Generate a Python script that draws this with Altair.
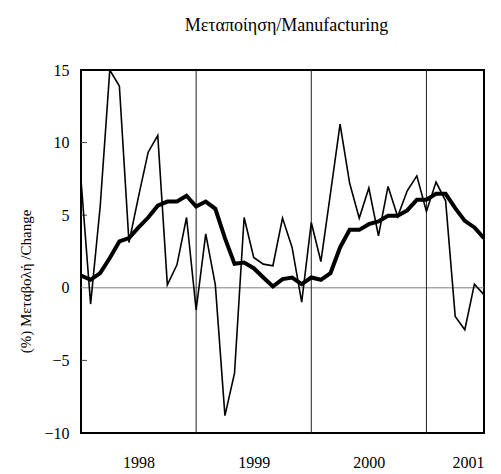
import altair as alt
import pandas as pd

# Monthly index (0 = first month shown), July 1997 .. January 2001
months = list(range(43))

# Thin line: monthly % change
monthly_change = [7.44, -1.12, 5.6, 15.0, 13.9, 3.12, 6.3, 9.34, 10.49, 0.2,
                  1.58, 4.84, -1.52, 3.72, 0.2, -8.8, -5.88, 4.84, 2.09, 1.63,
                  1.52, 4.8, 2.78, -0.99, 4.5, 1.81, 6.5, 11.27, 7.2, 4.8,
                  6.87, 3.58, 6.98, 4.91, 6.68, 7.71, 5.26, 7.28, 5.99, -1.97,
                  -2.89, 0.25, -0.48]

# Thick line: moving average
moving_avg = [0.85, 0.55, 1.01, 2.05, 3.19, 3.42, 4.16, 4.84, 5.65, 5.94,
              5.94, 6.34, 5.6, 5.94, 5.44, 3.42, 1.65, 1.74, 1.35, 0.71,
              0.09, 0.6, 0.71, 0.25, 0.71, 0.55, 1.01, 2.78, 3.99, 3.99,
              4.38, 4.57, 4.96, 4.96, 5.33, 6.06, 6.06, 6.47, 6.47, 5.49,
              4.61, 4.16, 3.42]

year_label_pos = [6, 18, 30, 42]
year_labels = ["1998", "1999", "2000", "2001"]
year_dividers = [12, 24, 36]
y_ticks = [-10, -5, 0, 5, 10, 15]
inner_ticks = [-5, 5, 10]

FONT = "Liberation Serif"

df_thin = pd.DataFrame({"k": months, "v": monthly_change})
df_thick = pd.DataFrame({"k": months, "v": moving_avg})
df_div = pd.DataFrame({"k": year_dividers})
df_zero = pd.DataFrame({"v": [0]})
df_itick = pd.DataFrame({"v": inner_ticks})

label_expr = "{" + ",".join(f"'{p}':'{l}'" for p, l in zip(year_label_pos, year_labels)) + "}[datum.value]"

xscale = alt.Scale(domain=[0, 42], nice=False, zero=False)
yscale = alt.Scale(domain=[-10, 15], nice=False)

x_enc = alt.X("k:Q", scale=xscale, axis=alt.Axis(
    values=year_label_pos, labelExpr=label_expr, title=None, grid=False,
    ticks=False, domain=False, labelPadding=21, labelFont=FONT,
    labelFontSize=16, labelColor="black"))

y_enc = alt.Y("v:Q", scale=yscale, axis=alt.Axis(
    values=y_ticks, title="(%) Μεταβολή /Change", grid=False, ticks=False,
    domain=False, labelPadding=12, labelFont=FONT, labelFontSize=16,
    labelColor="black", titleFont=FONT, titleFontSize=15,
    titleFontWeight="normal", titleColor="black", titleAngle=270,
    titleX=-56, titleY=211, titleAlign="center", titleBaseline="middle"))

zero = alt.Chart(df_zero).mark_rule(color="#808080", strokeWidth=1).encode(
    y=alt.Y("v:Q", scale=yscale))

divs = alt.Chart(df_div).mark_rule(color="#222222", strokeWidth=1).encode(
    x=alt.X("k:Q", scale=xscale))

iticks = alt.Chart(df_itick).mark_rule(color="#444444", strokeWidth=1).encode(
    y=alt.Y("v:Q", scale=yscale), x=alt.value(0), x2=alt.value(6))

thin = alt.Chart(df_thin).mark_line(color="black", strokeWidth=1.6, clip=True).encode(
    x=x_enc, y=y_enc)

thick = alt.Chart(df_thick).mark_line(color="black", strokeWidth=4, clip=True).encode(
    x=alt.X("k:Q", scale=xscale), y=alt.Y("v:Q", scale=yscale))

chart = alt.layer(zero, divs, iticks, thin, thick).properties(
    width=403, height=363,
    background="white",
    autosize=alt.AutoSizeParams(type="none"),
    padding={"left": 73, "top": 62, "right": 9, "bottom": 40},
    title=alt.TitleParams("Μεταποίηση/Manufacturing", font=FONT, fontSize=18,
                          fontWeight="normal", color="black", offset=27, dx=4),
).configure_view(stroke="black", strokeWidth=2)

chart.save("out.html", embed_options={"renderer": "svg", "actions": False})
